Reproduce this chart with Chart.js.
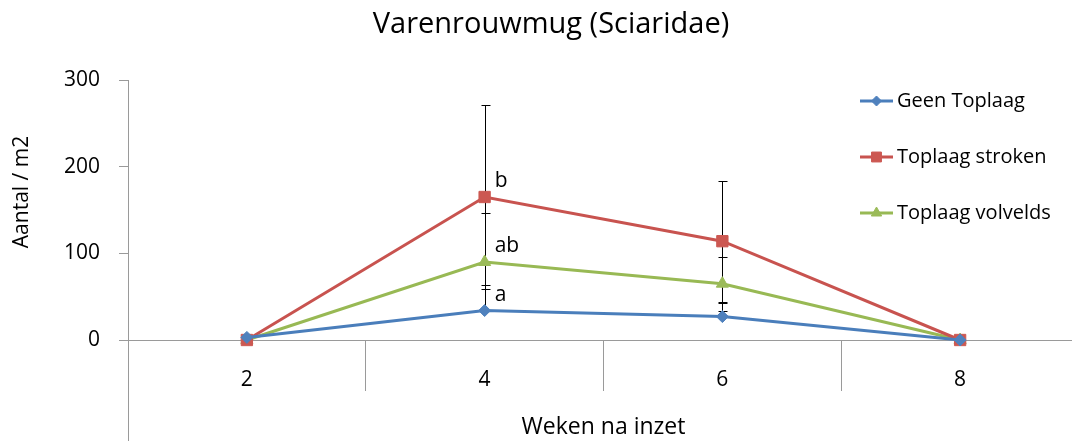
<!DOCTYPE html>
<html lang="en">
<head>
<meta charset="UTF-8">
<title>Varenrouwmug (Sciaridae)</title>
<script src="https://cdn.jsdelivr.net/npm/chart.js@4.4.1/dist/chart.umd.min.js"></script>
<style>
  html, body { margin: 0; padding: 0; background: #fff; overflow: hidden; }
  /* plot runs slightly past the right edge of the picture */
  #wrap { width: 1088px; height: 441px; }
</style>
</head>
<body>
<div id="wrap"><canvas id="chart"></canvas></div>
<script>
const weeks = ['2', '4', '6', '8'];
const seriesNames = ['Geen Toplaag', 'Toplaag stroken', 'Toplaag volvelds'];
const geenToplaag = [3, 34, 27, 0];
const toplaagStroken = [0, 165, 114, 0];
const toplaagVolvelds = [0, 90, 65, 0];
// error bars (blue only shows the plus side)
const geenErrPlus = [3, 29, 16, 0];
const geenErrMinus = [0, 0, 0, 0];
const strokenErr = [0, 106, 70, 0];
const volveldsErr = [0, 57, 31, 0];
// significance letters
const geenLetters = ['', 'a', '', ''];
const strokenLetters = ['', 'b', '', ''];
const volveldsLetters = ['', 'ab', '', ''];

const FONT = "'Open Sans', sans-serif";
const AXIS = '#9a9a9a';

const colors = [
  { line: '#4A7EBB', fill: '#4F81BD', style: 'rectRot', r: 6 },
  { line: '#C8534F', fill: '#CC5852', style: 'rect', r: 8 },
  { line: '#98B954', fill: '#9BBB59', style: 'triangle', r: 7 }
];

function makeSet(i, data, up, down, letters) {
  const c = colors[i];
  return {
    label: seriesNames[i],
    data: data,
    errPlus: up,
    errMinus: down,
    letters: letters,
    borderColor: c.line,
    backgroundColor: c.fill,
    borderWidth: 3,
    pointStyle: c.style,
    pointRadius: c.r,
    pointHoverRadius: c.r,
    pointBackgroundColor: c.fill,
    pointBorderColor: c.fill,
    pointBorderWidth: 1,
    tension: 0,
    clip: false
  };
}

const extras = {
  id: 'extras',
  beforeDatasetsDraw(chart) {
    const ctx = chart.ctx;
    const ys = chart.scales.y;
    ctx.save();
    ctx.strokeStyle = '#000';
    ctx.lineWidth = 1;
    chart.data.datasets.forEach((ds, i) => {
      chart.getDatasetMeta(i).data.forEach((pt, j) => {
        const v = ds.data[j], up = ds.errPlus[j], dn = ds.errMinus[j];
        if (!up && !dn) return;
        const x = Math.round(pt.x) + 0.5;
        const yTop = Math.round(ys.getPixelForValue(v + up)) + 0.5;
        const yBot = Math.round(ys.getPixelForValue(v - dn)) + 0.5;
        ctx.beginPath();
        ctx.moveTo(x, yTop); ctx.lineTo(x, yBot);
        if (up) { ctx.moveTo(x - 4, yTop); ctx.lineTo(x + 5, yTop); }
        if (dn) { ctx.moveTo(x - 4, yBot); ctx.lineTo(x + 5, yBot); }
        ctx.stroke();
      });
    });
    ctx.restore();
  },
  afterDraw(chart) {
    const ctx = chart.ctx;
    const area = chart.chartArea;
    ctx.save();
    // vertical axis keeps going below zero
    ctx.strokeStyle = AXIS;
    ctx.lineWidth = 1;
    ctx.beginPath();
    ctx.moveTo(Math.round(area.left) + 0.5, area.bottom);
    ctx.lineTo(Math.round(area.left) + 0.5, chart.height);
    ctx.stroke();

    ctx.fillStyle = '#000';
    // title
    ctx.font = '29px ' + FONT;
    ctx.textAlign = 'center';
    ctx.textBaseline = 'middle';
    ctx.fillText('Varenrouwmug (Sciaridae)', 551, 25);

    // y axis title
    ctx.save();
    ctx.translate(22, 192);
    ctx.rotate(-Math.PI / 2);
    ctx.font = '21px ' + FONT;
    ctx.fillText('Aantal / m2', 0, 0);
    ctx.restore();

    // letters next to the points
    ctx.font = '21px ' + FONT;
    ctx.textAlign = 'left';
    ctx.textBaseline = 'alphabetic';
    chart.data.datasets.forEach((ds, i) => {
      chart.getDatasetMeta(i).data.forEach((pt, j) => {
        if (ds.letters[j]) ctx.fillText(ds.letters[j], pt.x + 10, pt.y - 10);
      });
    });

    // legend
    ctx.font = '20px ' + FONT;
    ctx.textBaseline = 'middle';
    chart.data.datasets.forEach((ds, i) => {
      const c = colors[i];
      const ly = 101 + i * 56;
      ctx.strokeStyle = c.line;
      ctx.lineWidth = 3;
      ctx.beginPath();
      ctx.moveTo(860, ly); ctx.lineTo(893, ly);
      ctx.stroke();
      ctx.fillStyle = c.fill;
      ctx.strokeStyle = c.fill;
      ctx.lineWidth = 1;
      Chart.helpers.drawPoint(ctx, { pointStyle: c.style, radius: c.r - 1, rotation: 0, borderWidth: 1 }, 876.5, ly);
      ctx.fillStyle = '#000';
      ctx.fillText(ds.label, 897, ly);
    });
    ctx.restore();
  }
};

new Chart(document.getElementById('chart'), {
  type: 'line',
  data: {
    labels: weeks,
    datasets: [
      makeSet(0, geenToplaag, geenErrPlus, geenErrMinus, geenLetters),
      makeSet(1, toplaagStroken, strokenErr, strokenErr, strokenLetters),
      makeSet(2, toplaagVolvelds, volveldsErr, volveldsErr, volveldsLetters)
    ]
  },
  options: {
    responsive: true,
    maintainAspectRatio: false,
    animation: false,
    layout: { padding: { top: 80, left: 0, right: 0, bottom: 0 } },
    plugins: { legend: { display: false }, title: { display: false }, tooltip: { enabled: false } },
    scales: {
      x: {
        type: 'category',
        offset: true,
        grid: { offset: true, drawOnChartArea: false, tickLength: 51, color: AXIS, tickColor: AXIS },
        border: { color: AXIS, width: 1 },
        ticks: { padding: -24, color: '#000', font: { family: FONT, size: 21 } },
        title: { display: true, text: 'Weken na inzet', color: '#000', padding: 0, font: { family: FONT, size: 23 } },
        afterFit(s) { s.height = 101; }
      },
      y: {
        min: 0,
        max: 300,
        ticks: { stepSize: 100, padding: 19, color: '#000', font: { family: FONT, size: 21 } },
        grid: { drawOnChartArea: false, tickLength: 9, color: AXIS, tickColor: AXIS },
        border: { color: AXIS, width: 1 },
        afterFit(s) { s.width = 128; }
      }
    }
  },
  plugins: [extras]
});
</script>
</body>
</html>
